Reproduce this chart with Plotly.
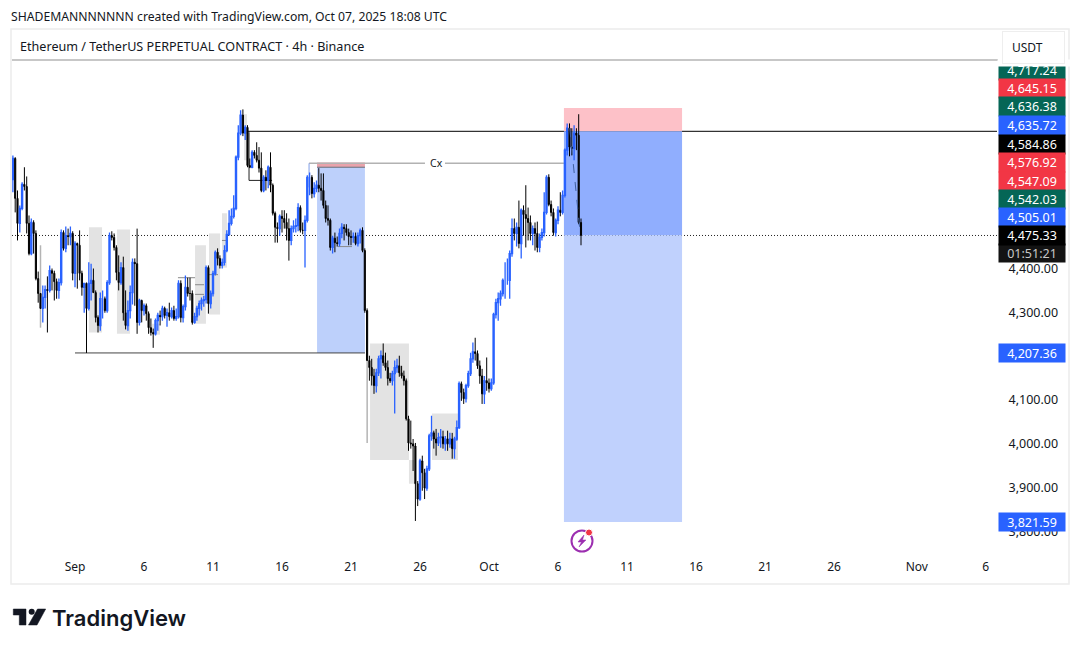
import pandas as pd
import plotly.graph_objects as go

# ETHUSDT.P 4h candles, Aug 27 12:00 onward
first_open = 4603
closes = [
    4651,4560,4503,4537,4592,4587,4503,4434,4505,4480,4377,4343,4309,4334,4352,4350,4395,4389,4370,4350,
    4368,4482,4446,4475,4473,4480,4389,4457,4453,4389,4357,4366,4309,4366,4373,4345,4288,4270,4331,4331,
    4304,4368,4475,4471,4448,4391,4368,4402,4299,4270,4304,4345,4414,4411,4277,4327,4304,4315,4297,4265,
    4254,4251,4281,4293,4290,4309,4293,4299,4290,4304,4286,4290,4366,4288,4313,4357,4343,4343,4277,4290,
    4309,4320,4327,4329,4402,4320,4343,4389,4437,4423,4407,4414,4441,4478,4503,4519,4537,4654,4709,4750,
    4709,4722,4635,4631,4665,4658,4647,4629,4578,4608,4601,4631,4590,4526,4494,4491,4519,4514,4505,4491,
    4464,4491,4496,4498,4539,4487,4487,4510,4608,4608,4571,4583,4590,4583,4578,4544,4514,4510,4448,4469,
    4459,4457,4480,4494,4491,4482,4473,4471,4473,4457,4475,4487,4441,4304,4190,4174,4155,4133,4162,4194,
    4201,4185,4174,4149,4144,4160,4174,4178,4162,4155,4144,4057,4002,4000,3995,3909,3874,3961,3934,3899,
    3943,4018,4025,4011,4002,4014,4016,4000,4011,4000,4011,3989,4011,4037,4137,4117,4103,4133,4160,4194,
    4210,4206,4178,4155,4114,4144,4139,4126,4139,4295,4322,4331,4343,4373,4373,4373,4434,4491,4480,4494,
    4457,4533,4523,4514,4505,4480,4491,4480,4448,4471,4482,4528,4608,4546,4528,4482,4510,4533,4528,4567,
    4670,4720,4677,4674,4709,4704,4505,4475.33,
]
highs = [
    4658,4654,4578,4544,4597,4631,4610,4521,4514,4510,4487,4393,4343,4361,4361,4382,4407,4400,4395,4377,
    4377,4489,4487,4496,4491,4496,4485,4462,4459,4487,4395,4366,4368,4414,4411,4400,4350,4293,4345,4350,
    4336,4373,4482,4485,4480,4453,4430,4414,4427,4350,4327,4361,4423,4423,4491,4331,4329,4320,4320,4302,
    4286,4263,4286,4299,4304,4315,4313,4309,4322,4311,4315,4309,4373,4373,4318,4384,4379,4379,4350,4299,
    4315,4327,4334,4338,4407,4407,4350,4395,4441,4446,4430,4423,4453,4487,4533,4537,4567,4658,4727,4761,
    4763,4727,4727,4651,4670,4670,4688,4677,4665,4613,4624,4635,4665,4594,4530,4505,4523,4533,4533,4526,
    4514,4498,4510,4514,4549,4544,4505,4521,4613,4619,4613,4597,4601,4629,4617,4617,4555,4544,4514,4475,
    4482,4473,4491,4503,4501,4501,4491,4487,4482,4482,4482,4491,4494,4446,4309,4201,4194,4171,4171,4201,
    4213,4229,4208,4190,4162,4167,4190,4194,4201,4178,4167,4149,4064,4053,4011,4002,3915,3966,3973,3943,
    3950,4023,4064,4030,4034,4025,4034,4030,4018,4030,4025,4025,4016,4053,4142,4142,4126,4137,4167,4208,
    4231,4242,4213,4190,4171,4155,4197,4149,4149,4299,4331,4345,4350,4377,4414,4423,4441,4514,4514,4505,
    4555,4537,4544,4590,4539,4521,4498,4505,4507,4480,4491,4574,4613,4615,4555,4537,4514,4542,4574,4578,
    4674,4731,4731,4720,4727,4720,4752,4514,
]
lows = [
    4574,4528,4464,4482,4533,4578,4480,4430,4430,4434,4373,4322,4309,4277,4309,4254,4345,4350,4327,4331,
    4331,4361,4441,4437,4453,4453,4373,4357,4354,4373,4338,4299,4207.36,4304,4327,4345,4277,4254,4258,4286,
    4299,4299,4363,4464,4441,4373,4350,4363,4281,4261,4258,4286,4318,4315,4251,4270,4277,4293,4281,4251,
    4247,4219,4247,4258,4270,4281,4286,4267,4281,4286,4281,4281,4286,4277,4277,4304,4336,4327,4272,4274,
    4281,4293,4304,4313,4320,4297,4309,4336,4384,4407,4400,4400,4407,4437,4475,4498,4514,4533,4647,4704,
    4702,4693,4631,4629,4629,4651,4642,4619,4574,4574,4578,4583,4574,4521,4459,4459,4475,4482,4491,4464,
    4418,4453,4482,4482,4485,4482,4478,4402,4505,4567,4560,4562,4574,4574,4555,4537,4505,4498,4441,4434,
    4437,4450,4450,4469,4464,4475,4453,4453,4459,4453,4450,4457,4437,4299,4190,4144,4133,4114,4117,4155,
    4149,4178,4167,4133,4139,4133,4069,4162,4153,4149,4133,4053,3984,3989,3938,3824,3858,3870,3893,3874,
    3893,3938,4007,3989,3973,3995,3991,3989,3984,3984,3991,3966,3966,4007,4034,4098,4091,4094,4128,4155,
    4185,4190,4171,4137,4091,4091,4121,4117,4121,4135,4286,4281,4315,4336,4331,4363,4331,4427,4464,4450,
    4446,4423,4475,4448,4464,4464,4453,4441,4437,4437,4464,4473,4523,4542,4519,4475,4473,4501,4519,4523,
    4562,4658,4656,4658,4647,4670,4501,4453,
]
opens = [first_open] + closes[:-1]
times = pd.date_range("2025-08-27 12:00", periods=len(closes), freq="4h")

# Faded wicks, (day from Sep 1, low, high)
faded_wicks = [(-2.5, 4265, 4453), (21.17, 4002, 4190)]

# Long position tool and key levels
last_price = 4475.33
entry_price = 4713
stop_price = 4766
target_price = 3821.59
swing_low = 4207.36
inner_box_top = 4631
inner_stop = 4642
cx_level = 4640

# Tinted zones, (start day, end day, low, high) with days counted from Sep 1
zones = [
    (1.01, 1.96, 4254, 4494), (3.04, 3.99, 4251, 4489), (5.58, 6.16, 4249, 4274),
    (8.70, 9.49, 4274, 4453), (9.71, 10.51, 4295, 4480), (10.65, 11.01, 4402, 4526),
    (12.25, 12.46, 4647, 4752), (21.38, 24.20, 3963, 4229), (24.20, 24.57, 3909, 3963),
    (25.87, 27.75, 3963, 4069),
]

# Short annotated levels, (start day, end day, price, dash)
minor_levels = [
    (7.46, 8.70, 4379, "solid"), (8.70, 9.49, 4363, "dash"), (8.70, 9.49, 4341, "dash"),
    (9.71, 10.51, 4386, "dash"), (10.65, 11.01, 4464, "solid"), (19.06, 20.07, 4450, "solid"),
]

# Labels stacked on the price scale
scale_labels = ["4,717.24", "4,645.15", "4,636.38", "4,635.72", "4,584.86",
                "4,576.92", "4,547.09", "4,542.03", "4,505.01"]
scale_colors = ["#056656", "#f23645", "#056656", "#2962ff", "#000000",
                "#f23645", "#f23645", "#056656", "#2962ff"]
price_ticks = [3800, 3900, 4000, 4100, 4300, 4400]
price_tick_text = ["3,800.00", "3,900.00", "4,000.00", "4,100.00", "4,300.00", "4,400.00"]
time_tick_days = [0, 5, 10, 15, 20, 25, 30, 35, 40, 45, 50, 55, 61, 66]
time_tick_text = ["Sep", "6", "11", "16", "21", "26", "Oct", "6", "11", "16", "21", "26", "Nov", "6"]

# Pane geometry in page pixels
W, H = 1080, 650
L, R, T, B = 12, 997, 60, 558
FONT = "Noto Sans"


def px(x):
    return (x - L) / (R - L)


def py(y):
    return (B - y) / (B - T)


def day(d):
    return pd.Timestamp("2025-09-01") + pd.Timedelta(days=d)


shapes = []


def rect_data(d0, d1, p0, p1, color):
    shapes.append(dict(type="rect", xref="x", yref="y", x0=day(d0), x1=day(d1), y0=p0, y1=p1,
                       fillcolor=color, line_width=0, layer="below"))


def line_data(d0, d1, p0, p1, color, width=1, dash="solid", layer="below"):
    shapes.append(dict(type="line", xref="x", yref="y", x0=day(d0), x1=day(d1), y0=p0, y1=p1,
                       line=dict(color=color, width=width, dash=dash), layer=layer))


def path_page(points, fill, line=None):
    d = "M " + " L ".join(f"{px(x):.5f},{py(y):.5f}" for x, y in points) + " Z"
    shapes.append(dict(type="path", xref="paper", yref="paper", path=d, fillcolor=fill,
                       line=dict(color=line or fill, width=0.5), layer="above"))


# Page frame and header rule
shapes.append(dict(type="rect", xref="paper", yref="paper", x0=px(11), x1=px(1069), y0=py(584), y1=py(29),
                   line=dict(color="#ececec", width=1.5), fillcolor="rgba(0,0,0,0)", layer="below"))
shapes.append(dict(type="line", xref="paper", yref="paper", x0=px(12), x1=px(998), y0=py(60), y1=py(60),
                   line=dict(color="#8f8f8f", width=1), layer="above"))

for d0, d1, lo, hi in zones:
    rect_data(d0, d1, lo, hi, "#e3e3e3")

# Earlier setup: blue box, stop strip and labelled level
rect_data(17.54, 21.01, swing_low, inner_box_top, "#bdd0fb")
rect_data(17.54, 21.01, inner_box_top, inner_stop, "#e9a3ab")
line_data(17.54, 21.01, inner_box_top, inner_box_top, "#66707f")
line_data(16.96, 25.36, cx_level, cx_level, "#b2b2b2", 1.5)
line_data(26.81, 35.43, cx_level, cx_level, "#b2b2b2", 1.5)
line_data(16.96, 16.96, 4585, cx_level, "#7f9de8")

# Long position: stop, open profit and remaining target
rect_data(35.43, 43.99, entry_price, stop_price, "#fdc1c8")
rect_data(35.43, 43.99, last_price, entry_price, "#90aefe")
rect_data(35.43, 43.99, target_price, last_price, "#c0d1fd")

# Horizontal levels
line_data(0, 21.01, swing_low, swing_low, "#444444")
shapes.append(dict(type="line", xref="paper", yref="y", x0=px(247), x1=1, y0=entry_price, y1=entry_price,
                   line=dict(color="#000000", width=1), layer="below"))
shapes.append(dict(type="line", xref="paper", yref="y", x0=0, x1=1, y0=last_price, y1=last_price,
                   line=dict(color="#222222", width=1, dash="1px,2px"), layer="below"))
line_data(12.61, 12.61, 4601, 4711, "#222222")
line_data(12.61, 14.28, 4601, 4601, "#222222")
for d0, d1, p, dash in minor_levels:
    line_data(d0, d1, p, p, "#8a8a8a", 1, dash)
for d, lo, hi in faded_wicks:
    line_data(d, d, lo, hi, "#b4b4b4", 1.5)

# Projected path down from the top of the position
line_data(35.85, 36.6, 4720, 4483, "#3f5f9e", 1, "dash", layer="above")

# Event marker under the candles
shapes.append(dict(type="circle", xref="paper", yref="paper", x0=px(571.5), x1=px(592.5),
                   y0=py(551.5), y1=py(530.5), line=dict(color="#9c2fb0", width=2),
                   fillcolor="#ffffff", layer="above"))
shapes.append(dict(type="circle", xref="paper", yref="paper", x0=px(585.5), x1=px(592.5),
                   y0=py(536), y1=py(529), line=dict(color="#ffffff", width=1),
                   fillcolor="#f23645", layer="above"))
path_page([(584, 535), (578, 542), (581.5, 542), (579, 547), (586, 540), (582.5, 540)], "#9c2fb0")

# Wordmark glyph
path_page([(13.3, 609), (26, 609), (26, 625), (19.3, 625), (19.3, 615), (13.3, 615)], "#131722")
shapes.append(dict(type="circle", xref="paper", yref="paper", x0=px(28.7), x1=px(34.7),
                   y0=py(614.7), y1=py(608.7), fillcolor="#131722", line_width=0, layer="above"))
path_page([(37.5, 609), (45.7, 609), (37, 625), (28.5, 625)], "#131722")


def page_text(x, y, text, size=12, color="#131722", anchor="left", family=FONT, weight=None):
    font = dict(family=family, size=size, color=color)
    if weight:
        font["weight"] = weight
    return dict(xref="paper", yref="paper", x=px(x), y=py(y), text=text, showarrow=False,
                xanchor=anchor, yanchor="middle", font=font)


def scale_tag(text, color, y, yref="paper", text_color="#ffffff", height=18.5):
    return dict(xref="paper", yref=yref, x=px(998), y=y, text=text, showarrow=False, xanchor="left",
                yanchor="middle", width=66, height=height, bgcolor=color, borderpad=0, align="center",
                font=dict(family=FONT, size=12.5, color=text_color))


annotations = [
    page_text(9, 16, "SHADEMANNNNNNN created with TradingView.com, Oct 07, 2025 18:08 UTC", 12.2),
    page_text(18, 46, "Ethereum / TetherUS PERPETUAL CONTRACT · 4h · Binance", 12.6),
    page_text(436, 163, "Cx", 10.5, anchor="center"),
    page_text(50, 618, "TradingView", 22, anchor="left", family="Inter", weight=600),
]
tag_rows = [70.5, 89, 107, 125.5, 144, 162.5, 181, 199.5, 218]
for label, color, row in zip(scale_labels, scale_colors, tag_rows):
    annotations.append(scale_tag(label, color, py(row)))
annotations.append(scale_tag("01:51:21", "#131313", py(252.5), text_color="#c8c8c8", height=18))
annotations.append(scale_tag("4,475.33", "#000000", last_price, "y"))
annotations.append(scale_tag("4,207.36", "#2962ff", swing_low, "y", height=18))
annotations.append(scale_tag("3,821.59", "#2962ff", target_price, "y", height=18))
# Blank strip and currency button clip the top of the label stack
annotations.append(dict(xref="paper", yref="paper", x=px(997), y=py(63), text=" ", showarrow=False,
                        xanchor="left", yanchor="middle", width=72, height=6, bgcolor="#ffffff", borderpad=0))
annotations.append(dict(xref="paper", yref="paper", x=px(1002), y=py(48), text=" ", showarrow=False,
                        xanchor="left", yanchor="middle", width=61, height=31, bgcolor="#ffffff",
                        bordercolor="#eeeeee", borderwidth=1, borderpad=0))
annotations.append(page_text(1010, 48, "USDT", 12))

fig = go.Figure(go.Candlestick(
    x=times, open=opens, high=highs, low=lows, close=closes,
    increasing=dict(line=dict(color="#2962ff", width=1.3), fillcolor="#2962ff"),
    decreasing=dict(line=dict(color="#000000", width=1), fillcolor="#000000"),
    whiskerwidth=0, showlegend=False, hoverinfo="skip",
))
fig.update_layout(
    width=W, height=H, margin=dict(l=L, r=W - R, t=T, b=H - B, pad=0),
    paper_bgcolor="#ffffff", plot_bgcolor="#ffffff",
    shapes=shapes, annotations=annotations, showlegend=False,
    font=dict(family=FONT, size=12, color="#131722"),
    xaxis=dict(
        type="date", rangeslider=dict(visible=False),
        range=[day((L - 75) / 13.8), day((R - 75) / 13.8)],
        tickmode="array", tickvals=[day(d) for d in time_tick_days], ticktext=time_tick_text,
        showgrid=False, zeroline=False, showline=False, ticks="", tickfont=dict(size=12, color="#131722"),
    ),
    yaxis=dict(
        side="right", range=[3739.5, 4875.7], tickmode="array", tickvals=price_ticks, ticktext=price_tick_text,
        showgrid=False, zeroline=False, showline=False, ticks="outside", ticklen=8, tickcolor="rgba(0,0,0,0)",
        tickfont=dict(size=12.5, color="#131722"),
    ),
)
fig.write_html("out.html", config=dict(displayModeBar=False))
